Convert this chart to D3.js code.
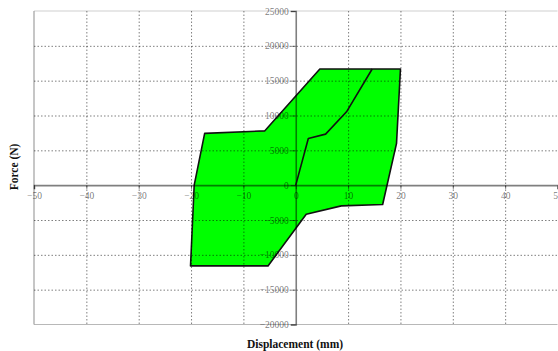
<!DOCTYPE html>
<html>
<head>
<meta charset="utf-8">
<script src="https://cdn.jsdelivr.net/npm/d3@7"></script>
<style>
  html, body { margin: 0; padding: 0; background: #fff; }
  svg { display: block; }
</style>
</head>
<body>
<svg id="chart" width="558" height="351"></svg>
<script>
// Hysteresis loop (displacement in mm, force in N)
const loopDisp  = [-17.4, -5.9, 4.6, 20.0, 19.25, 16.6, 8.7, 2.0, -5.3, -20.1, -19.4];
const loopForce = [7430, 7800, 16670, 16670, 6000, -2780, -2970, -4170, -11590, -11590, 0];

// Initial loading branch
const loadDisp  = [0, 2.4, 5.7, 9.7, 14.6];
const loadForce = [0, 6700, 7330, 10530, 16670];

const xTicks = [-50, -40, -30, -20, -10, 0, 10, 20, 30, 40, 50];
const yTicks = [-20000, -15000, -10000, -5000, 0, 5000, 10000, 15000, 20000, 25000];

const svg = d3.select("#chart");
const x = d3.scaleLinear().domain([-50, 50]).range([34, 557.5]);
const y = d3.scaleLinear().domain([-20000, 25000]).range([324.5, 11]);

// plot frame
svg.append("line").attr("x1", x(-50)).attr("x2", x(50)).attr("y1", y(25000)).attr("y2", y(25000))
  .attr("stroke", "#d0d0d0").attr("stroke-width", 1.2);
svg.append("line").attr("x1", x(-50)).attr("x2", x(50)).attr("y1", y(-20000)).attr("y2", y(-20000))
  .attr("stroke", "#b8b8b8").attr("stroke-width", 1.2);
svg.append("line").attr("x1", x(-50)).attr("x2", x(-50)).attr("y1", y(25000)).attr("y2", y(-20000))
  .attr("stroke", "#a0a0a0").attr("stroke-width", 1.2);

// loop area
const pts = loopDisp.map((d, i) => [x(d), y(loopForce[i])]);
svg.append("path")
  .attr("d", d3.line()(pts) + "Z")
  .attr("fill", "#00ff00")
  .attr("stroke", "#111")
  .attr("stroke-width", 1.6)
  .attr("stroke-linejoin", "round");

// dotted grid, semi-transparent so it darkens the green where it crosses
const grid = svg.append("g").attr("stroke", "rgba(0,0,0,0.5)").attr("stroke-width", 1).attr("stroke-dasharray", "1.5,2");
grid.selectAll("line.v").data(xTicks.filter(d => d !== 0 && d !== -50 && d !== 50)).enter().append("line")
  .attr("x1", d => x(d) + 0.5).attr("x2", d => x(d) + 0.5)
  .attr("y1", y(25000)).attr("y2", y(-20000));
grid.selectAll("line.h").data(yTicks.filter(d => d !== 0 && d !== 25000 && d !== -20000)).enter().append("line")
  .attr("x1", x(-50)).attr("x2", x(50))
  .attr("y1", d => y(d) + 0.5).attr("y2", d => y(d) + 0.5);

// axes through the origin
const xAxis = d3.axisBottom(x).tickValues(xTicks).tickSize(4).tickPadding(3).tickFormat(d3.format("d"));
const yAxis = d3.axisLeft(y).tickValues(yTicks).tickSize(5).tickPadding(2).tickFormat(d3.format("d"));

const gx = svg.append("g").attr("transform", `translate(0,${y(0)})`).call(xAxis);
const gy = svg.append("g").attr("transform", `translate(${x(0)},0)`).call(yAxis);

[gx, gy].forEach(g => {
  g.select(".domain").attr("stroke", "rgba(0,0,0,0.5)").attr("stroke-width", 1.6);
  g.selectAll(".tick line").attr("stroke", "rgba(0,0,0,0.45)");
  g.selectAll("text")
    .attr("font-family", "'Liberation Serif', 'Times New Roman', serif")
    .attr("font-size", 9.5)
    .attr("fill", "rgba(0,0,0,0.55)");
});

// initial loading branch
svg.append("path")
  .attr("d", d3.line()(loadDisp.map((d, i) => [x(d), y(loadForce[i])])))
  .attr("fill", "none")
  .attr("stroke", "#111")
  .attr("stroke-width", 1.6)
  .attr("stroke-linejoin", "round");

// axis titles
svg.append("text")
  .attr("x", 295).attr("y", 348)
  .attr("text-anchor", "middle")
  .attr("font-family", "'Liberation Serif', 'Times New Roman', serif")
  .attr("font-weight", "bold").attr("font-size", 11.5)
  .attr("fill", "#111")
  .text("Displacement (mm)");

svg.append("text")
  .attr("transform", "translate(18,167) rotate(-90)")
  .attr("text-anchor", "middle")
  .attr("font-family", "'Liberation Serif', 'Times New Roman', serif")
  .attr("font-weight", "bold").attr("font-size", 11.5)
  .attr("fill", "#111")
  .text("Force (N)");
</script>
</body>
</html>
